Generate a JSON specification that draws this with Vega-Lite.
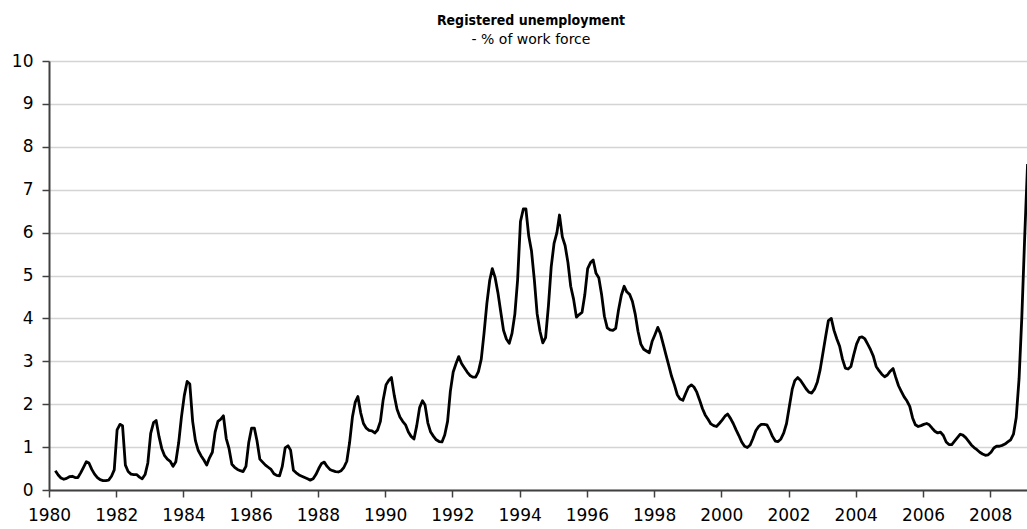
{
 "$schema": "https://vega.github.io/schema/vega-lite/v6.json",
 "width": 978,
 "height": 429,
 "autosize": {"type": "none"},
 "padding": {"left": 49, "top": 61, "right": 0, "bottom": 39},
 "background": "white",
 "title": {"text": "Registered unemployment", "subtitle": "- % of work force", "anchor": "middle", "dx": -7, "font": "DejaVu Sans Condensed", "fontSize": 14, "fontWeight": "bold", "color": "black", "subtitleFont": "DejaVu Sans", "subtitleFontSize": 14, "subtitleColor": "black", "subtitlePadding": 5, "offset": 5},
 "config": {"view": {"stroke": null}},
 "data": {"values": [
{"d":"1980-03-10","v":0.45},{"d":"1980-04-10","v":0.35},{"d":"1980-05-10","v":0.28},{"d":"1980-06-10","v":0.25},{"d":"1980-07-10","v":0.27},{"d":"1980-08-10","v":0.31},{"d":"1980-09-10","v":0.32},{"d":"1980-10-10","v":0.29},{"d":"1980-11-10","v":0.29},{"d":"1980-12-10","v":0.40},
{"d":"1981-01-10","v":0.53},{"d":"1981-02-10","v":0.66},{"d":"1981-03-10","v":0.63},{"d":"1981-04-10","v":0.48},{"d":"1981-05-10","v":0.37},{"d":"1981-06-10","v":0.29},{"d":"1981-07-10","v":0.24},{"d":"1981-08-10","v":0.22},{"d":"1981-09-10","v":0.22},{"d":"1981-10-10","v":0.23},{"d":"1981-11-10","v":0.32},{"d":"1981-12-10","v":0.47},
{"d":"1982-01-10","v":1.40},{"d":"1982-02-10","v":1.53},{"d":"1982-03-10","v":1.50},{"d":"1982-04-10","v":0.58},{"d":"1982-05-10","v":0.43},{"d":"1982-06-10","v":0.37},{"d":"1982-07-10","v":0.36},{"d":"1982-08-10","v":0.36},{"d":"1982-09-10","v":0.30},{"d":"1982-10-10","v":0.26},{"d":"1982-11-10","v":0.36},{"d":"1982-12-10","v":0.63},
{"d":"1983-01-10","v":1.32},{"d":"1983-02-10","v":1.57},{"d":"1983-03-10","v":1.62},{"d":"1983-04-10","v":1.25},{"d":"1983-05-10","v":0.97},{"d":"1983-06-10","v":0.80},{"d":"1983-07-10","v":0.72},{"d":"1983-08-10","v":0.67},{"d":"1983-09-10","v":0.55},{"d":"1983-10-10","v":0.66},{"d":"1983-11-10","v":1.10},{"d":"1983-12-10","v":1.70},
{"d":"1984-01-10","v":2.20},{"d":"1984-02-10","v":2.53},{"d":"1984-03-10","v":2.47},{"d":"1984-04-10","v":1.60},{"d":"1984-05-10","v":1.15},{"d":"1984-06-10","v":0.92},{"d":"1984-07-10","v":0.80},{"d":"1984-08-10","v":0.70},{"d":"1984-09-10","v":0.58},{"d":"1984-10-10","v":0.75},{"d":"1984-11-10","v":0.88},{"d":"1984-12-10","v":1.35},
{"d":"1985-01-10","v":1.60},{"d":"1985-02-10","v":1.65},{"d":"1985-03-10","v":1.73},{"d":"1985-04-10","v":1.20},{"d":"1985-05-10","v":0.97},{"d":"1985-06-10","v":0.60},{"d":"1985-07-10","v":0.53},{"d":"1985-08-10","v":0.48},{"d":"1985-09-10","v":0.45},{"d":"1985-10-10","v":0.43},{"d":"1985-11-10","v":0.55},{"d":"1985-12-10","v":1.10},
{"d":"1986-01-10","v":1.44},{"d":"1986-02-10","v":1.44},{"d":"1986-03-10","v":1.15},{"d":"1986-04-10","v":0.72},{"d":"1986-05-10","v":0.65},{"d":"1986-06-10","v":0.58},{"d":"1986-07-10","v":0.53},{"d":"1986-08-10","v":0.48},{"d":"1986-09-10","v":0.38},{"d":"1986-10-10","v":0.34},{"d":"1986-11-10","v":0.33},{"d":"1986-12-10","v":0.55},
{"d":"1987-01-10","v":0.98},{"d":"1987-02-10","v":1.03},{"d":"1987-03-10","v":0.93},{"d":"1987-04-10","v":0.46},{"d":"1987-05-10","v":0.40},{"d":"1987-06-10","v":0.35},{"d":"1987-07-10","v":0.32},{"d":"1987-08-10","v":0.29},{"d":"1987-09-10","v":0.26},{"d":"1987-10-10","v":0.23},{"d":"1987-11-10","v":0.26},{"d":"1987-12-10","v":0.36},
{"d":"1988-01-10","v":0.50},{"d":"1988-02-10","v":0.62},{"d":"1988-03-10","v":0.65},{"d":"1988-04-10","v":0.55},{"d":"1988-05-10","v":0.48},{"d":"1988-06-10","v":0.45},{"d":"1988-07-10","v":0.43},{"d":"1988-08-10","v":0.42},{"d":"1988-09-10","v":0.45},{"d":"1988-10-10","v":0.53},{"d":"1988-11-10","v":0.67},{"d":"1988-12-10","v":1.10},
{"d":"1989-01-10","v":1.70},{"d":"1989-02-10","v":2.05},{"d":"1989-03-10","v":2.18},{"d":"1989-04-10","v":1.80},{"d":"1989-05-10","v":1.55},{"d":"1989-06-10","v":1.44},{"d":"1989-07-10","v":1.39},{"d":"1989-08-10","v":1.38},{"d":"1989-09-10","v":1.33},{"d":"1989-10-10","v":1.40},{"d":"1989-11-10","v":1.60},{"d":"1989-12-10","v":2.10},
{"d":"1990-01-10","v":2.45},{"d":"1990-02-10","v":2.56},{"d":"1990-03-10","v":2.62},{"d":"1990-04-10","v":2.20},{"d":"1990-05-10","v":1.88},{"d":"1990-06-10","v":1.70},{"d":"1990-07-10","v":1.60},{"d":"1990-08-10","v":1.52},{"d":"1990-09-10","v":1.35},{"d":"1990-10-10","v":1.25},{"d":"1990-11-10","v":1.19},{"d":"1990-12-10","v":1.50},
{"d":"1991-01-10","v":1.92},{"d":"1991-02-10","v":2.08},{"d":"1991-03-10","v":1.98},{"d":"1991-04-10","v":1.56},{"d":"1991-05-10","v":1.35},{"d":"1991-06-10","v":1.25},{"d":"1991-07-10","v":1.17},{"d":"1991-08-10","v":1.13},{"d":"1991-09-10","v":1.12},{"d":"1991-10-10","v":1.28},{"d":"1991-11-10","v":1.60},{"d":"1991-12-10","v":2.30},
{"d":"1992-01-10","v":2.75},{"d":"1992-02-10","v":2.95},{"d":"1992-03-10","v":3.11},{"d":"1992-04-10","v":2.95},{"d":"1992-05-10","v":2.85},{"d":"1992-06-10","v":2.75},{"d":"1992-07-10","v":2.67},{"d":"1992-08-10","v":2.63},{"d":"1992-09-10","v":2.63},{"d":"1992-10-10","v":2.76},{"d":"1992-11-10","v":3.05},{"d":"1992-12-10","v":3.65},
{"d":"1993-01-10","v":4.35},{"d":"1993-02-10","v":4.89},{"d":"1993-03-10","v":5.16},{"d":"1993-04-10","v":4.95},{"d":"1993-05-10","v":4.60},{"d":"1993-06-10","v":4.15},{"d":"1993-07-10","v":3.72},{"d":"1993-08-10","v":3.52},{"d":"1993-09-10","v":3.42},{"d":"1993-10-10","v":3.65},{"d":"1993-11-10","v":4.10},{"d":"1993-12-10","v":4.90},
{"d":"1994-01-10","v":6.26},{"d":"1994-02-10","v":6.55},{"d":"1994-03-10","v":6.55},{"d":"1994-04-10","v":5.92},{"d":"1994-05-10","v":5.57},{"d":"1994-06-10","v":4.89},{"d":"1994-07-10","v":4.11},{"d":"1994-08-10","v":3.70},{"d":"1994-09-10","v":3.43},{"d":"1994-10-10","v":3.55},{"d":"1994-11-10","v":4.30},{"d":"1994-12-10","v":5.20},
{"d":"1995-01-10","v":5.75},{"d":"1995-02-10","v":6.00},{"d":"1995-03-10","v":6.41},{"d":"1995-04-10","v":5.90},{"d":"1995-05-10","v":5.70},{"d":"1995-06-10","v":5.30},{"d":"1995-07-10","v":4.75},{"d":"1995-08-10","v":4.45},{"d":"1995-09-10","v":4.03},{"d":"1995-10-10","v":4.09},{"d":"1995-11-10","v":4.14},{"d":"1995-12-10","v":4.55},
{"d":"1996-01-10","v":5.16},{"d":"1996-02-10","v":5.30},{"d":"1996-03-10","v":5.36},{"d":"1996-04-10","v":5.05},{"d":"1996-05-10","v":4.95},{"d":"1996-06-10","v":4.55},{"d":"1996-07-10","v":4.05},{"d":"1996-08-10","v":3.78},{"d":"1996-09-10","v":3.73},{"d":"1996-10-10","v":3.72},{"d":"1996-11-10","v":3.77},{"d":"1996-12-10","v":4.19},
{"d":"1997-01-10","v":4.54},{"d":"1997-02-10","v":4.75},{"d":"1997-03-10","v":4.62},{"d":"1997-04-10","v":4.56},{"d":"1997-05-10","v":4.40},{"d":"1997-06-10","v":4.10},{"d":"1997-07-10","v":3.70},{"d":"1997-08-10","v":3.40},{"d":"1997-09-10","v":3.28},{"d":"1997-10-10","v":3.24},{"d":"1997-11-10","v":3.20},{"d":"1997-12-10","v":3.46},
{"d":"1998-01-10","v":3.62},{"d":"1998-02-10","v":3.79},{"d":"1998-03-10","v":3.65},{"d":"1998-04-10","v":3.40},{"d":"1998-05-10","v":3.15},{"d":"1998-06-10","v":2.90},{"d":"1998-07-10","v":2.65},{"d":"1998-08-10","v":2.45},{"d":"1998-09-10","v":2.22},{"d":"1998-10-10","v":2.12},{"d":"1998-11-10","v":2.09},{"d":"1998-12-10","v":2.25},
{"d":"1999-01-10","v":2.40},{"d":"1999-02-10","v":2.45},{"d":"1999-03-10","v":2.40},{"d":"1999-04-10","v":2.28},{"d":"1999-05-10","v":2.10},{"d":"1999-06-10","v":1.90},{"d":"1999-07-10","v":1.75},{"d":"1999-08-10","v":1.65},{"d":"1999-09-10","v":1.54},{"d":"1999-10-10","v":1.50},{"d":"1999-11-10","v":1.48},{"d":"1999-12-10","v":1.55},
{"d":"2000-01-10","v":1.63},{"d":"2000-02-10","v":1.72},{"d":"2000-03-10","v":1.77},{"d":"2000-04-10","v":1.67},{"d":"2000-05-10","v":1.55},{"d":"2000-06-10","v":1.40},{"d":"2000-07-10","v":1.27},{"d":"2000-08-10","v":1.12},{"d":"2000-09-10","v":1.02},{"d":"2000-10-10","v":0.99},{"d":"2000-11-10","v":1.05},{"d":"2000-12-10","v":1.20},
{"d":"2001-01-10","v":1.38},{"d":"2001-02-10","v":1.48},{"d":"2001-03-10","v":1.53},{"d":"2001-04-10","v":1.53},{"d":"2001-05-10","v":1.52},{"d":"2001-06-10","v":1.40},{"d":"2001-07-10","v":1.25},{"d":"2001-08-10","v":1.14},{"d":"2001-09-10","v":1.13},{"d":"2001-10-10","v":1.19},{"d":"2001-11-10","v":1.33},{"d":"2001-12-10","v":1.55},
{"d":"2002-01-10","v":1.95},{"d":"2002-02-10","v":2.35},{"d":"2002-03-10","v":2.55},{"d":"2002-04-10","v":2.62},{"d":"2002-05-10","v":2.56},{"d":"2002-06-10","v":2.46},{"d":"2002-07-10","v":2.36},{"d":"2002-08-10","v":2.28},{"d":"2002-09-10","v":2.26},{"d":"2002-10-10","v":2.35},{"d":"2002-11-10","v":2.52},{"d":"2002-12-10","v":2.80},
{"d":"2003-01-10","v":3.20},{"d":"2003-02-10","v":3.60},{"d":"2003-03-10","v":3.95},{"d":"2003-04-10","v":4.00},{"d":"2003-05-10","v":3.72},{"d":"2003-06-10","v":3.52},{"d":"2003-07-10","v":3.35},{"d":"2003-08-10","v":3.05},{"d":"2003-09-10","v":2.84},{"d":"2003-10-10","v":2.82},{"d":"2003-11-10","v":2.88},{"d":"2003-12-10","v":3.15},
{"d":"2004-01-10","v":3.40},{"d":"2004-02-10","v":3.55},{"d":"2004-03-10","v":3.57},{"d":"2004-04-10","v":3.52},{"d":"2004-05-10","v":3.40},{"d":"2004-06-10","v":3.27},{"d":"2004-07-10","v":3.12},{"d":"2004-08-10","v":2.88},{"d":"2004-09-10","v":2.78},{"d":"2004-10-10","v":2.70},{"d":"2004-11-10","v":2.64},{"d":"2004-12-10","v":2.68},
{"d":"2005-01-10","v":2.77},{"d":"2005-02-10","v":2.83},{"d":"2005-03-10","v":2.63},{"d":"2005-04-10","v":2.43},{"d":"2005-05-10","v":2.30},{"d":"2005-06-10","v":2.17},{"d":"2005-07-10","v":2.08},{"d":"2005-08-10","v":1.95},{"d":"2005-09-10","v":1.68},{"d":"2005-10-10","v":1.52},{"d":"2005-11-10","v":1.48},{"d":"2005-12-10","v":1.50},
{"d":"2006-01-10","v":1.53},{"d":"2006-02-10","v":1.55},{"d":"2006-03-10","v":1.52},{"d":"2006-04-10","v":1.44},{"d":"2006-05-10","v":1.37},{"d":"2006-06-10","v":1.33},{"d":"2006-07-10","v":1.35},{"d":"2006-08-10","v":1.27},{"d":"2006-09-10","v":1.12},{"d":"2006-10-10","v":1.06},{"d":"2006-11-10","v":1.06},{"d":"2006-12-10","v":1.14},
{"d":"2007-01-10","v":1.22},{"d":"2007-02-10","v":1.30},{"d":"2007-03-10","v":1.28},{"d":"2007-04-10","v":1.22},{"d":"2007-05-10","v":1.14},{"d":"2007-06-10","v":1.05},{"d":"2007-07-10","v":0.99},{"d":"2007-08-10","v":0.94},{"d":"2007-09-10","v":0.88},{"d":"2007-10-10","v":0.84},{"d":"2007-11-10","v":0.81},{"d":"2007-12-10","v":0.82},
{"d":"2008-01-10","v":0.88},{"d":"2008-02-10","v":0.98},{"d":"2008-03-10","v":1.02},{"d":"2008-04-10","v":1.02},{"d":"2008-05-10","v":1.04},{"d":"2008-06-10","v":1.07},{"d":"2008-07-10","v":1.12},{"d":"2008-08-10","v":1.17},{"d":"2008-09-10","v":1.30},{"d":"2008-10-10","v":1.69},{"d":"2008-11-10","v":2.60},{"d":"2008-12-10","v":4.04},
{"d":"2009-01-10","v":5.90},{"d":"2009-02-10","v":7.60}
 ]},
 "mark": {"type": "line", "color": "black", "strokeWidth": 2.8, "strokeJoin": "round", "clip": true},
 "encoding": {
  "x": {"field": "d", "type": "temporal",
   "scale": {"type": "utc", "domain": [{"year": 1980, "month": 1, "date": 1, "utc": true}, {"year": 2009, "month": 2, "date": 4, "utc": true}]},
   "axis": {"title": null, "format": "%Y", "formatType": "utc", "tickCount": {"interval": "year", "step": 2}, "grid": false, "labelOverlap": false, "labelFlush": false, "labelFont": "DejaVu Sans", "labelFontSize": 17, "labelColor": "black", "labelPadding": 10, "tickSize": 7, "tickColor": "#404040", "tickWidth": 1.5, "domainColor": "#404040", "domainWidth": 2}},
  "y": {"field": "v", "type": "quantitative",
   "scale": {"domain": [0, 10], "nice": false, "zero": true},
   "axis": {"title": null, "values": [0,1,2,3,4,5,6,7,8,9,10], "labelFont": "DejaVu Sans", "labelFontSize": 17, "labelColor": "black", "labelPadding": 9, "tickSize": 7, "tickColor": "#404040", "tickWidth": 1.5, "domainColor": "#404040", "domainWidth": 2, "grid": true, "gridColor": "#d4d4d4", "gridWidth": 1.5}}
 }
}
